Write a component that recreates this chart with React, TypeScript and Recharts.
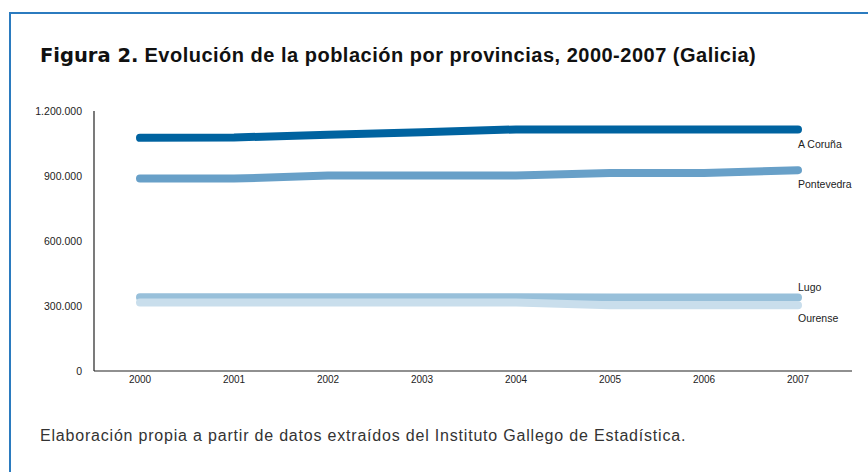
import { LineChart, Line, XAxis, YAxis } from "recharts";

const years = ["2000", "2001", "2002", "2003", "2004", "2005", "2006", "2007"];
const provinces = ["A Coruña", "Pontevedra", "Lugo", "Ourense"];
const coruna = [1076000, 1078000, 1090000, 1102000, 1115000, 1115000, 1115000, 1115000];
const pontevedra = [889000, 888000, 902000, 902000, 902000, 914000, 914000, 927000];
const lugo = [340000, 340000, 340000, 340000, 340000, 339000, 339000, 339000];
const ourense = [316000, 316000, 316000, 316000, 316000, 304000, 304000, 304000];
const yTicks = [0, 300000, 600000, 900000, 1200000];

const data = years.map((year, i) => ({
  year,
  coruna: coruna[i],
  pontevedra: pontevedra[i],
  lugo: lugo[i],
  ourense: ourense[i],
}));

const series = [
  { key: "coruna", name: provinces[0], color: "#0063a0", dy: 15 },
  { key: "pontevedra", name: provinces[1], color: "#68a0c8", dy: 14 },
  { key: "lugo", name: provinces[2], color: "#98c0da", dy: -11 },
  { key: "ourense", name: provinces[3], color: "#c9deec", dy: 13 },
];

const fmt = (v: number) => v.toLocaleString("de-DE");
const font = "'Liberation Sans', Arial, sans-serif";

const endLabel = (name: string, dy: number) => (props: any) => {
  if (props.index !== years.length - 1) return null;
  return (
    <text x={props.x} y={props.y + dy} dominantBaseline="central" fontSize={10.5} fill="#222" fontFamily={font}>
      {name}
    </text>
  );
};

export default function App() {
  return (
    <div style={{ position: "fixed", left: 0, top: 0, width: 868, height: 472, overflow: "hidden", background: "#fff", fontFamily: font }}>
      <div style={{ position: "absolute", left: 9, top: 12, width: 1000, height: 600, borderTop: "2px solid #2b7bbf", borderLeft: "2px solid #2b7bbf" }} />
      <div style={{ position: "absolute", left: 40, top: 45, fontSize: 20, letterSpacing: 0.5, lineHeight: 1, fontWeight: 700, color: "#111", whiteSpace: "nowrap" }}>
        <span style={{ fontFamily: "'DejaVu Sans', sans-serif", fontSize: 19.5, letterSpacing: 0 }}>Figura 2.</span> Evolución de la población por provincias, 2000-2007 (Galicia)
      </div>
      <div style={{ position: "absolute", left: 0, top: 0 }}>
        <LineChart width={868} height={472} data={data} margin={{ top: 111, right: 16, bottom: 71, left: 0 }}>
          <XAxis
            dataKey="year"
            height={30}
            padding={{ left: 46, right: 54 }}
            axisLine={{ stroke: "#222", strokeWidth: 1.2 }}
            tickLine={false}
            tickSize={4}
            tickMargin={1}
            tick={{ fontSize: 10, fill: "#222", fontFamily: font }}
          />
          <YAxis
            width={94}
            domain={[0, 1200000]}
            ticks={yTicks}
            tickFormatter={fmt}
            axisLine={{ stroke: "#222", strokeWidth: 1.2 }}
            tickLine={false}
            tickSize={6}
            tickMargin={6}
            tick={{ fontSize: 10.5, fill: "#222", fontFamily: font }}
          />
          {series.map((s) => (
            <Line
              key={s.key}
              dataKey={s.key}
              name={s.name}
              type="linear"
              stroke={s.color}
              strokeWidth={8}
              strokeLinecap="round"
              strokeLinejoin="round"
              dot={false}
              activeDot={false}
              isAnimationActive={false}
              label={endLabel(s.name, s.dy)}
            />
          ))}
        </LineChart>
      </div>
      <div style={{ position: "absolute", left: 40, top: 428, fontSize: 16, letterSpacing: 0.8, lineHeight: 1, color: "#333", whiteSpace: "nowrap" }}>
        Elaboración propia a partir de datos extraídos del Instituto Gallego de Estadística.
      </div>
    </div>
  );
}
